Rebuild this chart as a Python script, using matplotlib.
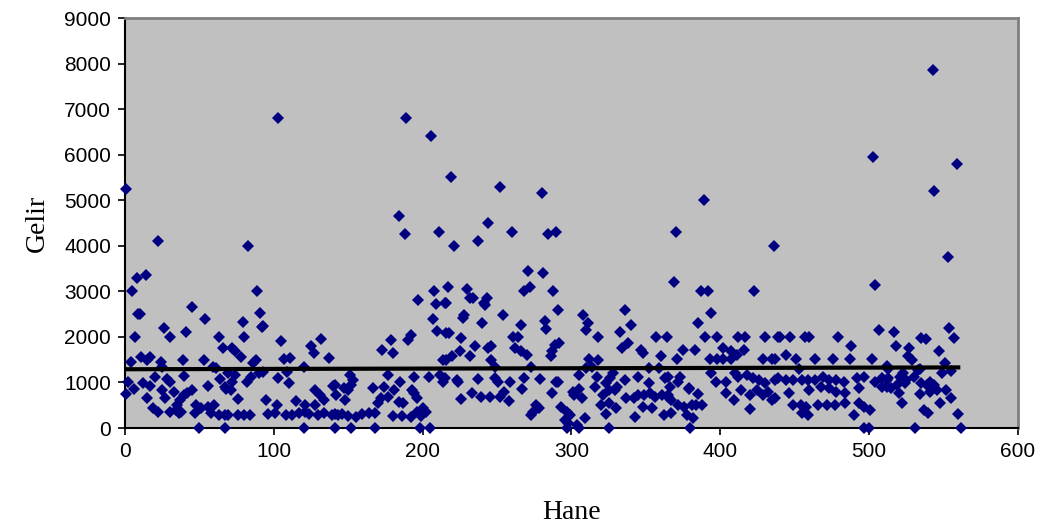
import matplotlib
matplotlib.use("Agg")
import matplotlib.pyplot as plt

# hane (household no.) and gelir (income) in x-ranges
hane_a = [1, 5, 8, 14, 22, 9, 10, 45, 54, 26, 30, 7, 41, 63, 66, 4, 11, 15, 17, 24, 39, 53, 59, 61, 25,
          2, 1, 6, 12, 17, 20, 28, 30, 40, 25, 27, 15, 33, 42, 45, 56, 64, 68, 37, 35, 34, 36, 38, 19, 22,
          30, 48, 47, 51, 56, 60, 58, 63, 67, 50, 67, 40]
gelir_a = [5250, 3000, 3300, 3350, 4100, 2500, 2500, 2650, 2400, 2200, 2000, 2000, 2100, 2000, 1750,
           1450, 1550, 1500, 1550, 1450, 1500, 1500, 1330, 1310, 1330, 1000, 750, 850, 980, 920,
           1130, 1070, 1020, 1150, 830, 650, 650, 800, 760, 830, 920, 1080, 850, 620, 500,
           400, 320, 360, 450, 360, 360, 500, 320, 430, 470, 500, 320, 290, 290, 0, 0, 720]

hane_b = [83, 89, 103, 91, 93, 92, 79, 80, 74, 72, 78, 86, 88, 105, 107, 111, 125, 127, 132, 137, 120, 69, 74,
          72, 67, 71, 82, 85, 90, 93, 103, 110, 109, 128, 131, 134, 140, 142, 76, 95, 102, 115, 121,
          128, 69, 76, 80, 84, 96, 101, 108, 112, 117, 121, 124, 130, 134, 139, 143, 120, 141]
gelir_b = [4000, 3000, 6800, 2530, 2250, 2220, 2330, 2000, 1700, 1750, 1550, 1430, 1490, 1900, 1510, 1530,
           1790, 1640, 1950, 1530, 1350, 1200, 1160, 1020, 910, 830, 1020, 1130, 1200, 1240, 1090, 980, 1240,
           830, 720, 620, 920, 720, 630, 620, 500, 600, 500, 500, 285, 285, 285, 285, 300, 320, 285, 285, 320,
           360, 300, 285, 320, 285, 285, 0, 0]

hane_c = [184, 188, 189, 197, 206, 208, 211, 209, 215, 207, 210, 216, 192, 190, 179, 173, 180, 214, 151, 153,
          152, 141, 147, 150, 148, 167, 174, 177, 185, 181, 194, 204, 193, 196, 194, 212, 214, 172, 170, 177,
          184, 187, 200, 196, 202, 141, 146, 150, 155, 159, 164, 168, 180, 186, 192, 199, 152, 168, 198, 205]
gelir_c = [4650, 4250, 6800, 2800, 6400, 3000, 4300, 2720, 2740, 2400, 2140, 2080, 2040, 1930, 1930, 1710,
           1640, 1490, 1160, 1050, 940, 940, 870, 830, 620, 870, 910, 1160, 1020, 830, 1130, 1110, 830, 650,
           760, 1160, 1020, 650, 540, 690, 580, 540, 430, 360, 360, 300, 300, 270, 250, 300, 320, 320, 270,
           270, 250, 270, 0, 0, 0, 0]

hane_d = [217, 219, 221, 230, 232, 234, 237, 243, 244, 252, 260, 268, 271, 272, 280, 281, 284, 288, 290,
          241, 242, 216, 291, 228, 227, 254, 240, 266, 282, 283, 218, 261, 264, 226, 235, 246, 244, 262, 266,
          289, 287, 286, 225, 220, 216, 232, 270, 246, 249, 273, 215, 223, 224, 237, 249, 251, 259, 268, 279,
          267, 290, 233, 239, 226, 245, 252, 255, 258, 287, 276, 274, 273, 278]
gelir_d = [3100, 5500, 4000, 3050, 2850, 2850, 4100, 2850, 4500, 5300, 4300, 3000, 3450, 3100, 5150, 3400,
           4250, 3000, 4300, 2740, 2700, 2740, 2600, 2480, 2410, 2480, 2300, 2260, 2350, 2170, 2080, 2000,
           2000, 1970, 1800, 1800, 1750, 1750, 1680, 1820, 1680, 1570, 1680, 1570, 1490, 1570, 1600, 1490,
           1350, 1330, 1090, 1050, 1020, 1070, 1090, 1020, 1020, 1100, 1070, 860, 1020, 760, 670, 630,
           670, 690, 800, 600, 760, 500, 360, 290, 430]

hane_e = [336, 308, 311, 310, 318, 340, 333, 292, 338, 334, 347, 348, 357, 364, 360, 312, 318, 314, 310, 352,
          359, 305, 317, 326, 328, 336, 345, 352, 363, 291, 301, 305, 307, 302, 316, 323, 321, 325, 329, 331,
          320, 325, 330, 337, 342, 345, 349, 353, 356, 361, 365, 348, 354, 293, 297, 299, 296, 298, 304, 309,
          323, 343, 362, 325, 297, 305]
gelir_e = [2600, 2480, 2310, 2150, 2000, 2260, 2110, 1870, 1860, 1750, 1710, 1640, 2000, 2000, 1580,
           1510, 1490, 1350, 1310, 1320, 1320, 1160, 1130, 1090, 1200, 1050, 1130, 980, 1090, 1020,
           800, 850, 650, 720, 910, 980, 720, 830, 830, 910, 500, 540, 430, 650, 650, 720, 720, 760, 690, 720,
           720, 470, 430, 470, 360, 290, 180, 100, 70, 210, 310, 250, 290, 0, 0, 0]

hane_f = [369, 370, 387, 389, 392, 423, 436, 394, 385, 390, 398, 412, 417, 430, 439, 375, 383, 371, 402, 407,
          411, 416, 393, 398, 402, 407, 429, 435, 365, 373, 372, 379, 394, 397, 404, 410, 412, 418, 422, 426,
          430, 437, 404, 409, 414, 420, 425, 429, 435, 432, 420, 366, 365, 367, 379, 385, 372, 376, 381, 384,
          388, 367, 378, 382, 380]
gelir_f = [3200, 4300, 3000, 5000, 3000, 3000, 4000, 2520, 2310, 2000, 2000, 2000, 2000, 2000, 2000, 1710,
           1710, 1510, 1750, 1680, 1600, 1710, 1510, 1510, 1510, 1510, 1510, 1510, 1110, 1110, 1020, 870,
           1200, 1020, 1020, 1200, 1130, 1160, 1090, 1050, 980, 1050, 760, 620, 830, 720, 830, 720, 620, 800,
           410, 910, 690, 620, 850, 750, 500, 470, 500, 500, 500, 320, 290, 210, 0]

hane_g = [503, 504, 507, 440, 447, 457, 460, 479, 488, 444, 451, 464, 476, 487, 502, 437, 453, 512, 439, 444,
          449, 455, 459, 464, 469, 473, 478, 483, 492, 497, 504, 509, 512, 446, 460, 468, 473, 478, 484, 493,
          509, 449, 454, 458, 466, 472, 477, 484, 493, 497, 455, 459, 490, 501, 497, 500, 437]
gelir_g = [5950, 3130, 2150, 2000, 2000, 2000, 2000, 2000, 1810, 1600, 1510, 1510, 1510, 1510, 1510, 1510,
           1290, 1360, 1090, 1050, 1050, 1050, 1050, 1050, 1130, 1050, 1050, 1020, 1090, 1130, 1020, 1090,
           1050, 760, 830, 910, 870, 800, 760, 870, 910, 500, 500, 470, 500, 500, 500, 540, 540, 470, 320,
           290, 290, 400, 0, 0, 650]

hane_h = [543, 544, 553, 559, 554, 557, 517, 535, 538, 518, 527, 526, 529, 547, 551, 513, 523, 534, 549,
          555, 513, 521, 525, 530, 533, 512, 515, 519, 524, 535, 539, 541, 544, 541, 546, 552, 520, 534, 522,
          548, 555, 537, 540, 560, 531, 562]
gelir_h = [7850, 5200, 3750, 5800, 2200, 1970, 2100, 1970, 1950, 1790, 1750, 1580, 1490, 1680, 1420, 1300,
           1200, 1300, 1200, 1250, 1090, 1130, 1050, 1130, 1270, 910, 870, 940, 980, 980, 940, 1020, 940,
           800, 830, 830, 760, 750, 540, 540, 650, 400, 320, 300, 0, 0]

# mean / trend line
trend_hane = [0, 560]
trend_gelir = [1290, 1330]

hane = hane_a + hane_b + hane_c + hane_d + hane_e + hane_f + hane_g + hane_h
gelir = gelir_a + gelir_b + gelir_c + gelir_d + gelir_e + gelir_f + gelir_g + gelir_h

fig = plt.figure(figsize=(10.43, 5.24), dpi=100)
ax = fig.add_axes([0.1198, 0.1832, 0.856, 0.7824])
ax.set_facecolor('#C0C0C0')

ax.plot(hane, gelir, 'D', color='#000080', markersize=6.5, markeredgewidth=0, clip_on=False, zorder=3)
ax.plot(trend_hane, trend_gelir, '-', color='black', linewidth=3, zorder=4)

ax.set_xlim(0, 600)
ax.set_ylim(0, 9000)
ax.set_xticks(range(0, 601, 100))
ax.set_yticks(range(0, 9001, 1000))

for s in ['top', 'right']:
    ax.spines[s].set_color('#808080')
    ax.spines[s].set_linewidth(2)
for s in ['left', 'bottom']:
    ax.spines[s].set_color('black')
    ax.spines[s].set_linewidth(1.5)

ax.tick_params(direction='out', length=5, width=1.2, color='black', pad=5, labelsize=15)
for lab in ax.get_xticklabels() + ax.get_yticklabels():
    lab.set_fontfamily('Liberation Sans')

ax.set_xlabel('Hane', fontsize=20, fontfamily='Liberation Serif', labelpad=28)
ax.set_ylabel('Gelir', fontsize=20, fontfamily='Liberation Serif', labelpad=10)

fig.savefig('out.png', dpi=100)
